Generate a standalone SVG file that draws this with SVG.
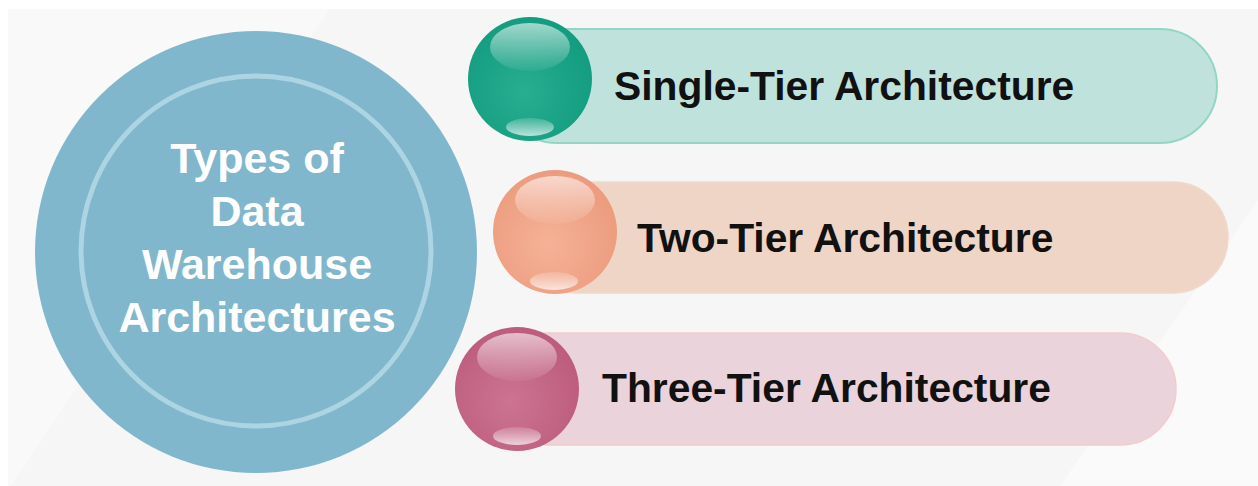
<svg xmlns="http://www.w3.org/2000/svg" width="1258" height="486" viewBox="0 0 1258 486">
  <defs>
    <style>
      .lbl { font-family: "Liberation Sans", Arial, sans-serif; font-weight: bold; font-size: 40.8px; fill: #111111; }
      .hub { font-family: "Liberation Sans", Arial, sans-serif; font-weight: bold; font-size: 43px; fill: #ffffff; text-anchor: middle; }
      .hl { fill: url(#hlTop); }
      .hb { fill: url(#hlBot); }
    </style>
    <radialGradient id="gTeal" cx="0.45" cy="0.6" r="0.6">
      <stop offset="0" stop-color="#28ad90"/>
      <stop offset="1" stop-color="#139c80"/>
    </radialGradient>
    <radialGradient id="gPeach" cx="0.45" cy="0.6" r="0.6">
      <stop offset="0" stop-color="#f5b296"/>
      <stop offset="1" stop-color="#ec9b7e"/>
    </radialGradient>
    <radialGradient id="gPink" cx="0.45" cy="0.6" r="0.6">
      <stop offset="0" stop-color="#cc7491"/>
      <stop offset="1" stop-color="#bd5c7d"/>
    </radialGradient>
    <linearGradient id="hlTop" x1="0" y1="0" x2="0" y2="1">
      <stop offset="0" stop-color="#ffffff" stop-opacity="0.6"/>
      <stop offset="1" stop-color="#ffffff" stop-opacity="0.05"/>
    </linearGradient>
    <linearGradient id="hlBot" x1="0" y1="0" x2="0" y2="1">
      <stop offset="0" stop-color="#ffffff" stop-opacity="0.15"/>
      <stop offset="1" stop-color="#ffffff" stop-opacity="0.7"/>
    </linearGradient>
  </defs>

  <rect x="0" y="0" width="1258" height="486" fill="#ffffff"/>
  <rect x="8" y="9" width="1250" height="477" fill="#f6f6f6"/>
  <polygon points="8,9 330,9 8,490" fill="#f9f9f9"/>
  <polygon points="1258,200 1258,486 1060,486" fill="#fafafa"/>

  <g id="hub">
    <circle cx="256" cy="252" r="221" fill="#80b7cc"/>
    <circle cx="256" cy="251" r="175" fill="none" stroke="#acd4e2" stroke-width="5"/>
    <text class="hub" x="257" y="173">Types of</text>
    <text class="hub" x="257" y="226">Data</text>
    <text class="hub" x="257" y="279">Warehouse</text>
    <text class="hub" x="257" y="332">Architectures</text>
  </g>

  <g id="connectors"></g>

  <g id="single-tier">
    <rect x="500" y="29" width="717" height="114" rx="57" fill="#bfe3dc" stroke="#94d6c4" stroke-width="2"/>
    <circle cx="530" cy="79" r="62" fill="url(#gTeal)"/>
    <ellipse cx="530" cy="47" rx="40" ry="24" class="hl"/>
    <ellipse cx="530" cy="127" rx="24" ry="9" class="hb"/>
    <text class="lbl" x="614" y="100">Single-Tier Architecture</text>
  </g>

  <g id="two-tier">
    <rect x="520" y="182" width="708" height="111" rx="55.5" fill="#efd5c6" stroke="#f0d8cb" stroke-width="1.5"/>
    <circle cx="555" cy="232" r="62" fill="url(#gPeach)"/>
    <ellipse cx="555" cy="200" rx="40" ry="24" class="hl"/>
    <ellipse cx="554" cy="281" rx="24" ry="9" class="hb"/>
    <text class="lbl" x="637" y="252">Two-Tier Architecture</text>
  </g>

  <g id="three-tier">
    <rect x="490" y="333" width="686" height="112" rx="56" fill="#ead3da" stroke="#f3ccce" stroke-width="1.5"/>
    <circle cx="517" cy="389" r="62" fill="url(#gPink)"/>
    <ellipse cx="517" cy="357" rx="40" ry="24" class="hl"/>
    <ellipse cx="517" cy="436" rx="24" ry="9" class="hb"/>
    <text class="lbl" x="602" y="402">Three-Tier Architecture</text>
  </g>
</svg>
